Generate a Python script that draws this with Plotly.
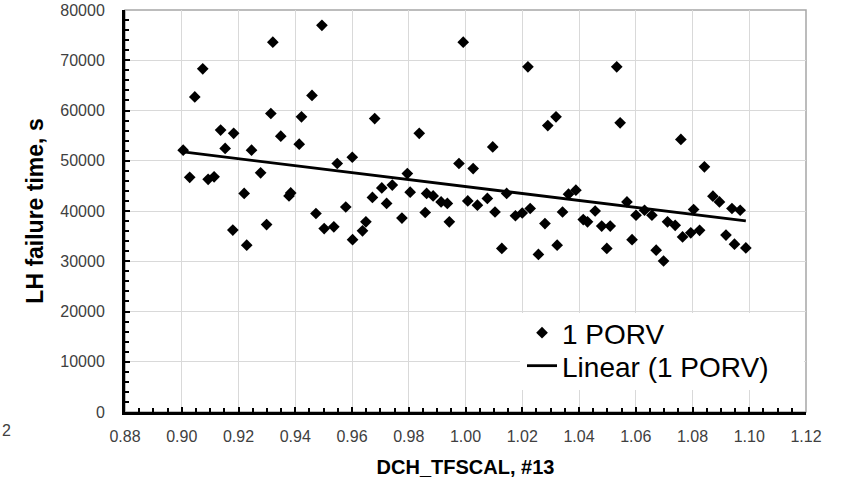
import numpy as np
import plotly.graph_objects as go

# Sample values (DCH_TFSCAL vs LH failure time)
dch_tfscal = [
    0.9005, 0.9028, 0.9046, 0.9074, 0.9093, 0.9114, 0.9137, 0.9153, 0.9183, 0.9180,
    0.9220, 0.9229, 0.9246, 0.9278, 0.9299, 0.9314, 0.9321, 0.9349, 0.9378, 0.9384,
    0.9414, 0.9422, 0.9459, 0.9473, 0.9494, 0.9502, 0.9536, 0.9548, 0.9578, 0.9601,
    0.9602, 0.9637, 0.9649, 0.9672, 0.9680, 0.9705, 0.9722, 0.9742, 0.9776, 0.9795,
    0.9805, 0.9837, 0.9858, 0.9863, 0.9886, 0.9914, 0.9936, 0.9943, 0.9977, 0.9992,
    1.0008, 1.0027, 1.0042, 1.0077, 1.0096, 1.0104, 1.0128, 1.0145, 1.0176, 1.0200,
    1.0220, 1.0228, 1.0257, 1.0280, 1.0290, 1.0319, 1.0323, 1.0342, 1.0363, 1.0389,
    1.0415, 1.0430, 1.0457, 1.0480, 1.0498, 1.0510, 1.0533, 1.0545, 1.0569, 1.0587,
    1.0601, 1.0631, 1.0657, 1.0672, 1.0698, 1.0712, 1.0739, 1.0759, 1.0765, 1.0794,
    1.0804, 1.0825, 1.0842, 1.0872, 1.0895, 1.0918, 1.0939, 1.0948, 1.0968, 1.0988,
]
lh_failure_time = [
    52100, 46700, 62700, 68300, 46300, 46800, 56100, 52450, 55450, 36200,
    43500, 33200, 52100, 47600, 37300, 59400, 73600, 54900, 43000, 43600,
    53300, 58750, 63000, 39500, 76950, 36500, 36850, 49450, 40800, 50700,
    34300, 36050, 37850, 42700, 58400, 44600, 41500, 45150, 38600, 47450,
    43750, 55450, 39700, 43500, 43000, 41800, 41500, 37850, 49450, 73600,
    42000, 48450, 41150, 42500, 52750, 39800, 32550, 43500, 39050, 39600,
    68700, 40500, 31350, 37500, 57000, 58750, 33200, 39800, 43350, 44150,
    38300, 37850, 40000, 37000, 32550, 37000, 68700, 57550, 41800, 34300,
    39150, 40150, 39150, 32200, 30050, 37850, 37150, 54250, 34850, 35650,
    40300, 36150, 48800, 42950, 41800, 35200, 40500, 33400, 40150, 32650,
]

x_tick_vals = [0.88, 0.90, 0.92, 0.94, 0.96, 0.98, 1.00, 1.02, 1.04, 1.06, 1.08, 1.10, 1.12]
y_tick_vals = [0, 10000, 20000, 30000, 40000, 50000, 60000, 70000, 80000]

series_name = "1 PORV"
trend_name = "Linear (1 PORV)"
x_title = "DCH_TFSCAL, #13"
y_title = "LH failure time, s"

# Linear trendline (least squares) over the data range
coef = np.polyfit(dch_tfscal, lh_failure_time, 1)
trend_x = [min(dch_tfscal), max(dch_tfscal)]
trend_y = list(np.polyval(coef, trend_x))

FONT = "Liberation Sans, Arial, sans-serif"

fig = go.Figure()
fig.add_trace(go.Scatter(
    x=dch_tfscal, y=lh_failure_time, mode="markers", name=series_name,
    marker=dict(symbol="diamond", size=9, color="black"),
    legend="legend", showlegend=True,
))
fig.add_trace(go.Scatter(
    x=trend_x, y=trend_y, mode="lines", name=trend_name,
    line=dict(color="black", width=2.8),
    legend="legend2", showlegend=True,
))

axis_common = dict(
    showgrid=True, gridcolor="#d9d9d9", gridwidth=1,
    showline=True, linecolor="black", linewidth=3,
    ticks="inside", ticklen=5, tickwidth=2, tickcolor="black",
    zeroline=False, automargin=False,
    tickfont=dict(family=FONT, size=16, color="#404040"),
)

legend_common = dict(
    xanchor="left", yanchor="middle",
    bgcolor="rgba(0,0,0,0)", borderwidth=0,
    font=dict(family=FONT, size=28, color="black"),
)

fig.update_layout(
    width=850, height=487,
    showlegend=True,
    margin=dict(l=125, r=44, t=10, b=75),
    paper_bgcolor="white", plot_bgcolor="white",
    font=dict(family=FONT, color="black"),
    xaxis=dict(
        range=[0.88, 1.12], tickvals=x_tick_vals, tickformat=".2f",
        minor=dict(dtick=0.005, tick0=0.88, ticks="inside", ticklen=4, tickwidth=2,
                   tickcolor="black", showgrid=False),
        ticklabelstandoff=8,
        title=dict(text="<b>" + x_title + "</b>", font=dict(family=FONT, size=20, color="black"),
                   standoff=16),
        **axis_common,
    ),
    yaxis=dict(
        range=[0, 80000], tickvals=y_tick_vals, tickformat="d",
        minor=dict(dtick=2000, tick0=0, ticks="inside", ticklen=4, tickwidth=2,
                   tickcolor="black", showgrid=False),
        ticklabelstandoff=14,
        title=dict(text="<b>" + y_title + "</b>", font=dict(family=FONT, size=23, color="black"),
                   standoff=11),
        **axis_common,
    ),
    legend=dict(x=0.583, y=0.1965, **legend_common),
    legend2=dict(x=0.583, y=0.1145, **legend_common),
    shapes=[
        dict(type="rect", xref="paper", yref="paper", x0=0, y0=0, x1=1, y1=1,
             line=dict(color="#a6a6a6", width=1.5), layer="below"),
        # white legend box background
        dict(type="rect", xref="paper", yref="paper", x0=0.58, y0=0.055, x1=0.997, y1=0.246,
             fillcolor="white", line=dict(width=0), layer="above"),
    ],
    annotations=[dict(text="2", xref="paper", yref="paper", x=-0.184, y=-0.045,
                      xanchor="left", yanchor="middle", showarrow=False,
                      font=dict(family=FONT, size=16, color="#404040"))],
)

fig.write_html("out.html")
